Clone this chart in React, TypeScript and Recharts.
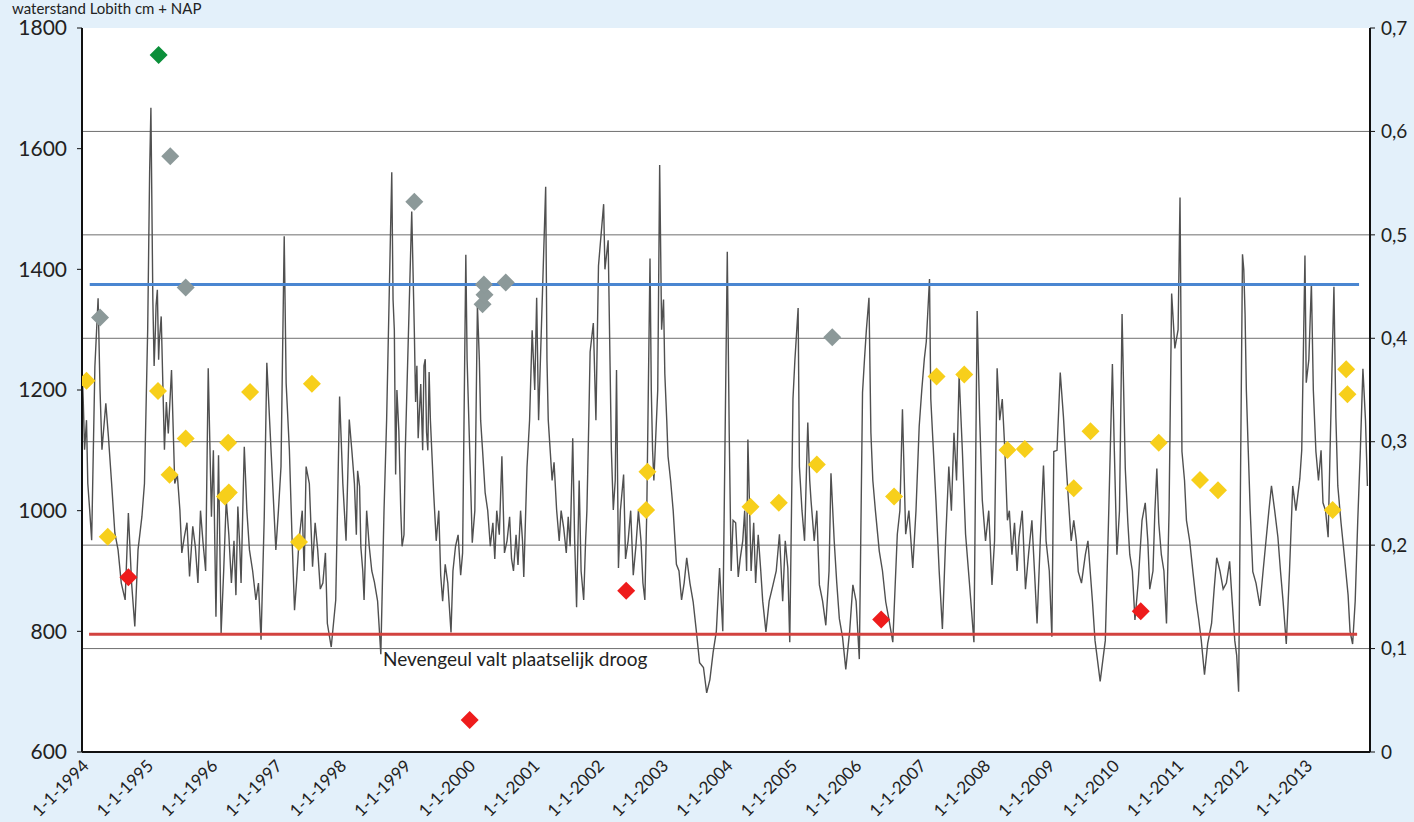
import React from 'react'
import { ComposedChart, Line, Scatter, XAxis, YAxis, ReferenceLine } from 'recharts'

// x axis: years, left axis: waterstand Lobith (cm + NAP), right axis: 0 - 0,7
const yearTicks = [
  1994, 1995, 1996, 1997, 1998, 1999, 2000, 2001, 2002, 2003,
  2004, 2005, 2006, 2007, 2008, 2009, 2010, 2011, 2012, 2013,
]
const levelTicks = [600, 800, 1000, 1200, 1400, 1600, 1800]
const rightTicks = [0, 0.1, 0.2, 0.3, 0.4, 0.5, 0.6, 0.7]
const gridValues = [0.1, 0.2, 0.3, 0.4, 0.5, 0.6]

// [year, waterstand cm] - peaks and troughs
const waterLevel: [number, number][] = [
  [1994.0, 1240], [1994.02, 1180], [1994.04, 1101], [1994.07, 1150], [1994.09, 1045],
  [1994.12, 1000], [1994.15, 951], [1994.2, 1239], [1994.25, 1352], [1994.28, 1200],
  [1994.31, 1101], [1994.37, 1178], [1994.41, 1123], [1994.46, 1045], [1994.51, 963],
  [1994.56, 935], [1994.61, 880], [1994.67, 852], [1994.72, 996], [1994.77, 880],
  [1994.82, 808], [1994.87, 935], [1994.93, 990], [1994.97, 1045], [1995.02, 1300],
  [1995.05, 1560], [1995.07, 1668], [1995.1, 1350], [1995.14, 1300], [1995.17, 1366],
  [1995.2, 1280], [1995.23, 1322], [1995.28, 1101], [1995.34, 1128], [1995.39, 1233],
  [1995.44, 1045], [1995.52, 1001], [1995.59, 957], [1995.67, 891], [1995.72, 974],
  [1995.8, 880], [1995.88, 946], [1995.96, 1236], [1996.01, 990], [1996.08, 824],
  [1996.12, 1092], [1996.16, 797], [1996.24, 1018], [1996.32, 880], [1996.42, 1007],
  [1996.47, 880], [1996.52, 1106], [1996.6, 935], [1996.7, 852], [1996.78, 786],
  [1996.83, 990], [1996.87, 1245], [1996.94, 1090], [1997.01, 935], [1997.09, 1073],
  [1997.14, 1455], [1997.17, 1211], [1997.22, 1101], [1997.3, 835], [1997.37, 951],
  [1997.48, 1073], [1997.53, 1045], [1997.58, 907], [1997.66, 935], [1997.74, 880],
  [1997.81, 813], [1997.87, 774], [1997.94, 852], [1998.0, 1189], [1998.05, 1045],
  [1998.15, 1151], [1998.23, 1045], [1998.28, 1066], [1998.33, 940], [1998.38, 852],
  [1998.46, 941], [1998.54, 882], [1998.64, 762], [1998.69, 1001], [1998.73, 1150],
  [1998.81, 1561], [1998.85, 1299], [1998.87, 1060], [1998.92, 1132], [1998.97, 941],
  [1999.02, 1100], [1999.12, 1496], [1999.16, 1300], [1999.18, 1180], [1999.26, 1210],
  [1999.33, 1251], [1999.37, 1100], [1999.41, 1150], [1999.46, 1031], [1999.57, 893],
  [1999.64, 911], [1999.73, 798], [1999.8, 941], [1999.88, 893], [1999.96, 1424],
  [1999.98, 1250], [2000.06, 947], [2000.14, 1341], [2000.19, 1150], [2000.26, 1030],
  [2000.34, 941], [2000.44, 1000], [2000.52, 1090], [2000.6, 950], [2000.7, 900],
  [2000.81, 1000], [2000.86, 890], [2000.91, 1072], [2000.99, 1299], [2001.06, 1353],
  [2001.09, 1150], [2001.2, 1537], [2001.22, 1250], [2001.27, 1100], [2001.37, 1001],
  [2001.48, 971], [2001.58, 941], [2001.62, 1120], [2001.68, 840], [2001.79, 852],
  [2001.84, 1000], [2001.89, 1263], [2001.94, 1311], [2001.98, 1150], [2002.02, 1406],
  [2002.1, 1508], [2002.17, 1448], [2002.2, 1239], [2002.25, 1001], [2002.3, 1233],
  [2002.33, 905], [2002.41, 1060], [2002.48, 950], [2002.56, 893], [2002.64, 1000],
  [2002.74, 852], [2002.82, 1418], [2002.84, 1200], [2002.88, 1050], [2002.97, 1573],
  [2003.0, 1300], [2003.05, 1227], [2003.1, 1090], [2003.18, 1000], [2003.23, 911],
  [2003.31, 852], [2003.39, 922], [2003.49, 849], [2003.59, 748], [2003.7, 698],
  [2003.8, 765], [2003.9, 905], [2003.95, 800], [2004.02, 1429], [2004.05, 1129],
  [2004.11, 984], [2004.19, 890], [2004.26, 950], [2004.34, 1118], [2004.39, 900],
  [2004.5, 960], [2004.57, 850], [2004.62, 799], [2004.73, 877], [2004.83, 961],
  [2004.96, 905], [2004.99, 782], [2005.04, 1185], [2005.12, 1336], [2005.14, 1073],
  [2005.22, 950], [2005.27, 1146], [2005.32, 1017], [2005.45, 877], [2005.55, 810],
  [2005.63, 1062], [2005.76, 821], [2005.86, 737], [2005.97, 877], [2006.07, 754],
  [2006.12, 1196], [2006.22, 1353], [2006.25, 1129], [2006.38, 933], [2006.48, 849],
  [2006.59, 782], [2006.66, 961], [2006.74, 1168], [2006.79, 961], [2006.9, 905],
  [2007.0, 1140], [2007.08, 1252], [2007.16, 1384], [2007.18, 1185], [2007.26, 1017],
  [2007.36, 804], [2007.46, 1073], [2007.54, 1129], [2007.62, 1224], [2007.72, 961],
  [2007.85, 782], [2007.9, 1331], [2007.98, 1017], [2008.13, 877], [2008.21, 1236],
  [2008.29, 1185], [2008.37, 984], [2008.44, 927], [2008.55, 956], [2008.65, 870],
  [2008.75, 984], [2008.83, 813], [2008.93, 1075], [2009.06, 791], [2009.09, 1098],
  [2009.19, 1229], [2009.24, 1155], [2009.32, 1013], [2009.4, 984], [2009.47, 899],
  [2009.58, 927], [2009.66, 893], [2009.73, 785], [2009.81, 717], [2009.89, 785],
  [2009.94, 984], [2010.0, 1243], [2010.07, 927], [2010.15, 1326], [2010.2, 1070],
  [2010.27, 927], [2010.35, 819], [2010.46, 984], [2010.51, 1013], [2010.58, 870],
  [2010.69, 1070], [2010.76, 927], [2010.84, 813], [2010.92, 1360], [2010.97, 1269],
  [2011.05, 1519], [2011.08, 1098], [2011.15, 984], [2011.25, 899], [2011.38, 785],
  [2011.43, 728], [2011.54, 813], [2011.62, 922], [2011.72, 870], [2011.82, 916],
  [2011.9, 785], [2011.96, 700], [2012.02, 1425], [2012.06, 1326], [2012.11, 1098],
  [2012.18, 899], [2012.29, 842], [2012.39, 956], [2012.47, 1041], [2012.57, 956],
  [2012.7, 779], [2012.8, 1041], [2012.91, 1053], [2012.99, 1423], [2013.01, 1212],
  [2013.09, 1377], [2013.16, 1098], [2013.27, 1013], [2013.35, 956], [2013.44, 1371],
  [2013.47, 1155], [2013.5, 1041], [2013.6, 927], [2013.73, 779], [2013.81, 984],
  [2013.89, 1235], [2013.96, 1041],
]

// smaller wiggles inside the dark bands of the scan
const waterLevelBands: [number, number][] = [
  [1995.12, 1240], [1995.15, 1340], [1995.19, 1250], [1995.215, 1300], [1995.31, 1180],
  [1995.48, 1060], [1995.55, 930], [1995.63, 980], [1995.76, 940], [1995.84, 1000],
  [1995.92, 900], [1996.04, 1100], [1996.2, 900], [1996.28, 960], [1996.36, 950],
  [1996.39, 860], [1996.45, 940], [1996.56, 1000], [1996.65, 900], [1996.74, 880],
  [1997.05, 1000], [1997.26, 960], [1997.33, 880], [1997.42, 1000], [1997.45, 900],
  [1997.62, 980], [1997.7, 870], [1997.78, 930], [1998.1, 950], [1998.19, 1100],
  [1998.26, 960], [1998.31, 1040], [1998.36, 900], [1998.42, 1000], [1998.5, 900],
  [1998.59, 850], [1998.83, 1350], [1998.89, 1200], [1998.95, 1000], [1999.0, 960],
  [1999.2, 1240], [1999.22, 1120], [1999.29, 1100], [1999.31, 1240], [1999.35, 1130],
  [1999.39, 1230], [1999.5, 950], [1999.54, 1000], [1999.6, 850], [1999.68, 880],
  [1999.76, 900], [1999.84, 960], [1999.91, 930], [2000.02, 1100], [2000.1, 1000],
  [2000.17, 1250], [2000.22, 1100], [2000.3, 1000], [2000.38, 980], [2000.41, 920],
  [2000.48, 960], [2000.56, 930], [2000.64, 990], [2000.67, 920], [2000.74, 960],
  [2000.77, 910], [2000.84, 950], [2000.95, 1150], [2001.03, 1200], [2001.24, 1150],
  [2001.3, 1050], [2001.33, 1080], [2001.41, 950], [2001.44, 1000], [2001.52, 930],
  [2001.55, 990], [2001.65, 950], [2001.72, 1050], [2001.75, 900], [2001.82, 950],
  [2001.87, 1150], [2002.12, 1400], [2002.22, 1100], [2002.28, 1050], [2002.36, 1000],
  [2002.44, 920], [2002.52, 1000], [2002.6, 940], [2002.68, 950], [2002.71, 880],
  [2002.77, 1000], [2002.86, 1100], [2002.94, 1200], [2003.03, 1350], [2003.08, 1150],
  [2003.14, 1050], [2003.27, 900], [2003.35, 880], [2003.44, 880], [2003.54, 800],
  [2003.65, 740], [2003.75, 720], [2003.85, 800], [2004.08, 900], [2004.15, 980],
  [2004.22, 920], [2004.29, 1000], [2004.32, 900], [2004.43, 980], [2004.46, 880],
  [2004.54, 900], [2004.67, 850], [2004.78, 900], [2004.88, 850], [2004.92, 950],
  [2005.07, 1250], [2005.18, 1000], [2005.3, 1050], [2005.37, 950], [2005.41, 1000],
  [2005.5, 850], [2005.6, 900], [2005.68, 950], [2005.72, 880], [2005.81, 790],
  [2005.92, 800], [2006.02, 850], [2006.15, 1250], [2006.18, 1300], [2006.28, 1050],
  [2006.32, 1000], [2006.43, 900], [2006.53, 820], [2006.7, 1000], [2006.84, 1000],
  [2006.95, 1000], [2007.04, 1200], [2007.11, 1280], [2007.22, 1100], [2007.31, 900],
  [2007.41, 950], [2007.5, 1000], [2007.58, 1050], [2007.67, 1100], [2007.78, 880],
  [2007.94, 1150], [2008.03, 950], [2008.08, 1000], [2008.17, 950], [2008.25, 1150],
  [2008.33, 1100], [2008.4, 1000], [2008.48, 980], [2008.52, 900], [2008.6, 1000],
  [2008.7, 930], [2008.79, 900], [2008.88, 950], [2008.97, 950], [2009.02, 900],
  [2009.14, 1100], [2009.28, 1080], [2009.36, 950], [2009.44, 950], [2009.52, 880],
  [2009.62, 950], [2009.69, 850], [2010.03, 1100], [2010.11, 1000], [2010.24, 980],
  [2010.31, 900], [2010.4, 880], [2010.55, 950], [2010.63, 900], [2010.66, 1000],
  [2010.72, 980], [2010.8, 900], [2010.88, 1000], [2011.02, 1300], [2011.12, 1050],
  [2011.2, 950], [2011.3, 850], [2011.34, 820], [2011.48, 780], [2011.58, 870],
  [2011.67, 900], [2011.77, 880], [2011.86, 850], [2011.93, 760], [2012.04, 1400],
  [2012.08, 1200], [2012.14, 1000], [2012.23, 880], [2012.34, 900], [2012.43, 1000],
  [2012.52, 1000], [2012.61, 900], [2012.65, 850], [2012.75, 900], [2012.85, 1000],
  [2012.94, 1100], [2013.05, 1250], [2013.12, 1200], [2013.2, 1050], [2013.24, 1100],
  [2013.31, 1000], [2013.38, 1100], [2013.55, 980], [2013.66, 860], [2013.69, 800],
  [2013.77, 850], [2013.85, 1100], [2013.93, 1150],
]

// [year, value on right axis]
const yellowPoints: [number, number][] = [
  [1994.07, 0.359], [1994.4, 0.208], [1995.18, 0.349], [1995.36, 0.268], [1995.61, 0.303],
  [1996.22, 0.247], [1996.28, 0.251], [1996.27, 0.299], [1996.61, 0.348], [1997.37, 0.203],
  [1997.57, 0.356], [2002.76, 0.234], [2002.78, 0.271], [2004.38, 0.237], [2004.82, 0.241],
  [2005.41, 0.278], [2006.61, 0.247], [2007.27, 0.363], [2007.7, 0.365], [2008.37, 0.292],
  [2008.64, 0.293], [2009.4, 0.255], [2009.66, 0.31], [2010.72, 0.299], [2011.36, 0.263],
  [2011.64, 0.253], [2013.42, 0.234], [2013.63, 0.37], [2013.65, 0.346],
]
const grayPoints: [number, number][] = [
  [1994.28, 0.42], [1995.37, 0.576], [1995.61, 0.449], [1999.16, 0.532], [2000.22, 0.433],
  [2000.25, 0.442], [2000.24, 0.452], [2000.58, 0.454], [2005.65, 0.401],
]
const redPoints: [number, number][] = [
  [1994.72, 0.169], [2000.02, 0.031], [2002.45, 0.156], [2006.41, 0.128], [2010.44, 0.136],
]
const greenPoints: [number, number][] = [[1995.19, 0.674]]

const upperLine: [number, number][] = [[1994.12, 1375], [2013.83, 1375]]
const lowerLine: [number, number][] = [[1994.11, 795], [2013.8, 795]]

const toLevel = (rows: [number, number][]) =>
  [...rows].sort((a, b) => a[0] - b[0]).map(([t, v]) => ({ t, v }))
const toRight = (rows: [number, number][]) => rows.map(([t, r]) => ({ t, r }))

const FONT = 'Lato, "Open Sans", sans-serif'
const INK = '#222'

function diamond(color: string) {
  return (props: any) => {
    const { cx, cy } = props
    const h = 9
    return (
      <polygon
        points={`${cx},${cy - h} ${cx + h},${cy} ${cx},${cy + h} ${cx - h},${cy}`}
        fill={color}
      />
    )
  }
}

function YearTick(props: any) {
  const { x, y, payload } = props
  const ax = x + 8
  const ay = y + 15
  return (
    <text
      x={ax}
      y={ay}
      transform={`rotate(-45, ${ax}, ${ay})`}
      textAnchor="end"
      fontSize={17}
      fontFamily={FONT}
      fill={INK}
    >
      {`1-1-${payload.value}`}
    </text>
  )
}

const commaFmt = (v: number) => (v === 0 ? '0' : v.toFixed(1).replace('.', ','))

export default function App() {
  const levelData = toLevel([...waterLevel, ...waterLevelBands])
  return (
    <div
      style={{
        position: 'absolute',
        left: 0,
        top: 0,
        width: 1414,
        height: 822,
        background: '#e3f0fa',
        overflow: 'hidden',
        fontFamily: FONT,
      }}
    >
      <div style={{ position: 'absolute', left: 12, top: 0, fontSize: 15, lineHeight: '17px', color: INK }}>
        waterstand Lobith cm + NAP
      </div>
      <div style={{ position: 'absolute', left: 82, top: 28, width: 1288, height: 724, background: '#fff' }} />
      <ComposedChart
        width={1414}
        height={822}
        margin={{ top: 28, right: 0, left: 0, bottom: 0 }}
        style={{ position: 'absolute', left: 0, top: 0 }}
      >
        <XAxis
          dataKey="t"
          type="number"
          domain={[1994, 2014]}
          ticks={yearTicks}
          allowDataOverflow
          height={70}
          tick={<YearTick />}
          tickLine={false}
          tickSize={0}
          tickMargin={0}
          axisLine={{ stroke: '#111', strokeWidth: 2 }}
          interval={0}
        />
        <YAxis
          yAxisId="left"
          type="number"
          domain={[600, 1800]}
          ticks={levelTicks}
          width={82}
          tickSize={5}
          tickMargin={10}
          tickLine={{ stroke: '#111' }}
          axisLine={{ stroke: '#111', strokeWidth: 2 }}
          tick={{ fontSize: 21, fill: INK, fontFamily: FONT }}
          interval={0}
        />
        <YAxis
          yAxisId="right"
          orientation="right"
          type="number"
          domain={[0, 0.7]}
          ticks={rightTicks}
          width={44}
          tickSize={5}
          tickMargin={6}
          tickLine={{ stroke: '#111' }}
          axisLine={{ stroke: '#111', strokeWidth: 2 }}
          tick={{ fontSize: 19, fill: INK, fontFamily: FONT }}
          tickFormatter={commaFmt}
          interval={0}
        />
        {gridValues.map((g) => (
          <ReferenceLine key={g} yAxisId="right" y={g} stroke="#6f6f6f" strokeWidth={1} />
        ))}
        <Line
          yAxisId="left"
          data={levelData}
          dataKey="v"
          type="linear"
          stroke="#505050"
          strokeWidth={1.4}
          dot={false}
          isAnimationActive={false}
        />
        <Line
          yAxisId="left"
          data={toLevel(upperLine)}
          dataKey="v"
          stroke="#4a86d1"
          strokeWidth={3}
          dot={false}
          isAnimationActive={false}
        />
        <Line
          yAxisId="left"
          data={toLevel(lowerLine)}
          dataKey="v"
          stroke="#d2423f"
          strokeWidth={3}
          dot={false}
          isAnimationActive={false}
        />
        <Scatter yAxisId="right" data={toRight(yellowPoints)} dataKey="r" shape={diamond('#f7cf1b')} isAnimationActive={false} />
        <Scatter yAxisId="right" data={toRight(grayPoints)} dataKey="r" shape={diamond('#8c9999')} isAnimationActive={false} />
        <Scatter yAxisId="right" data={toRight(redPoints)} dataKey="r" shape={diamond('#ee1c1c')} isAnimationActive={false} />
        <Scatter yAxisId="right" data={toRight(greenPoints)} dataKey="r" shape={diamond('#0b8f3a')} isAnimationActive={false} />
      </ComposedChart>
      <div style={{ position: 'absolute', left: 383, top: 647, fontSize: 19, color: INK }}>
        Nevengeul valt plaatselijk droog
      </div>
    </div>
  )
}
